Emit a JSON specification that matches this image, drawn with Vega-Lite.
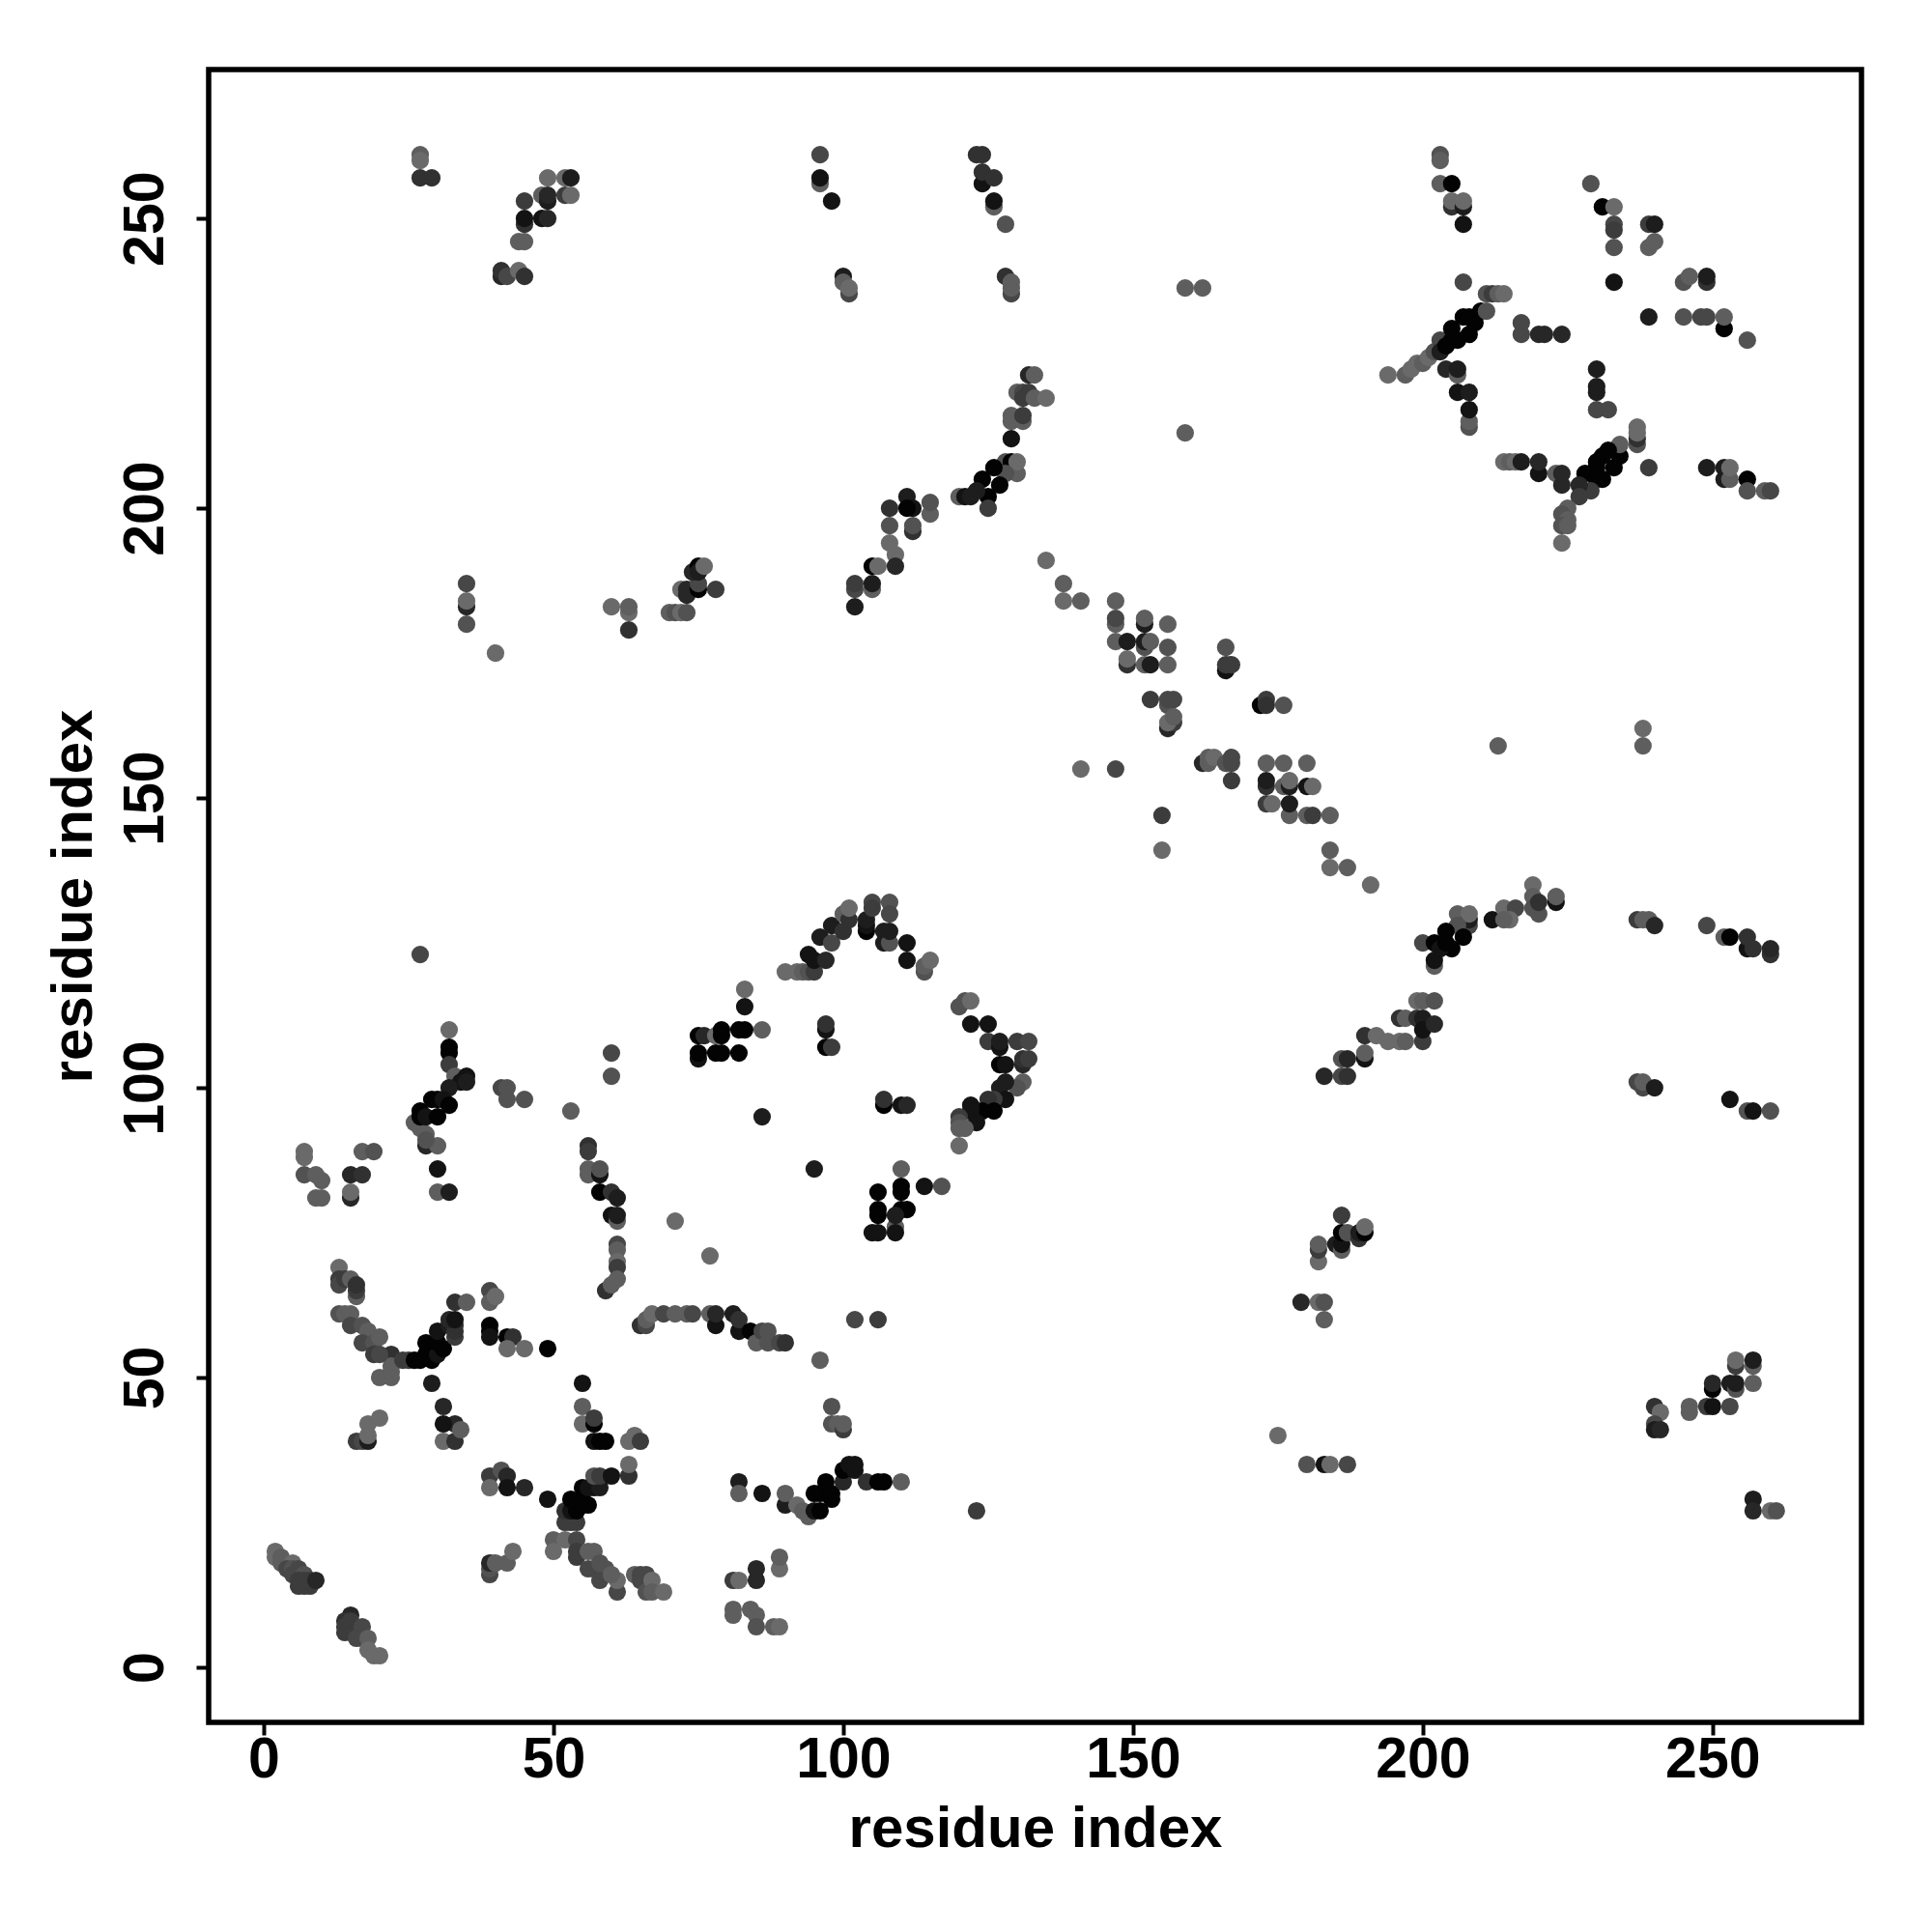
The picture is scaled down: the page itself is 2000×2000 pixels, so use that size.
{"$schema":"https://vega.github.io/schema/vega-lite/v6.json","width":1711,"height":1711,"autosize":"none","padding":{"left":216,"top":72,"right":73,"bottom":217},"background":"white","config":{"view":{"stroke":"black","strokeWidth":5.5}},
"data":{"values":[
{"x":2,"y":20,"s":9},{"x":2,"y":19,"s":9},{"x":3,"y":19,"s":8},{"x":3,"y":18,"s":8},{"x":5,"y":18,"s":9},{"x":4,"y":17,"s":6},{"x":5,"y":17,"s":7},{"x":6,"y":17,"s":6},{"x":6,"y":14,"s":5},{"x":7,"y":14,"s":5},{"x":8,"y":14,"s":5},{"x":5,"y":16,"s":6},{"x":6,"y":16,"s":6},{"x":7,"y":16,"s":7},{"x":6,"y":15,"s":5},{"x":7,"y":15,"s":5},{"x":8,"y":15,"s":5},{"x":9,"y":15,"s":3},
{"x":15,"y":9,"s":3},{"x":14,"y":8,"s":4},{"x":14,"y":7,"s":5},{"x":14,"y":6,"s":5},{"x":15,"y":8,"s":5},{"x":16,"y":6,"s":5},{"x":16,"y":5,"s":6},{"x":17,"y":7,"s":6},{"x":17,"y":5,"s":6},{"x":18,"y":5,"s":8},{"x":18,"y":3,"s":9},{"x":19,"y":2,"s":9},{"x":20,"y":2,"s":9},
{"x":39,"y":16,"s":6},{"x":39,"y":17,"s":7},{"x":39,"y":18,"s":3},{"x":40,"y":18,"s":8},{"x":42,"y":18,"s":8},{"x":43,"y":20,"s":9},
{"x":50,"y":22,"s":8},{"x":50,"y":20,"s":9},{"x":52,"y":22,"s":9},{"x":54,"y":22,"s":6},{"x":54,"y":20,"s":5},{"x":54,"y":19,"s":5},{"x":56,"y":20,"s":8},{"x":57,"y":20,"s":8},{"x":56,"y":17,"s":6},{"x":57,"y":17,"s":6},{"x":58,"y":18,"s":7},{"x":59,"y":17,"s":7},{"x":58,"y":15,"s":6},{"x":61,"y":13,"s":6},{"x":61,"y":15,"s":9},{"x":60,"y":16,"s":8},
{"x":64,"y":16,"s":8},{"x":65,"y":16,"s":6},{"x":66,"y":16,"s":6},{"x":65,"y":15,"s":6},{"x":66,"y":13,"s":7},{"x":67,"y":15,"s":9},{"x":67,"y":13,"s":8},{"x":69,"y":13,"s":9},
{"x":81,"y":15,"s":5},{"x":82,"y":15,"s":9},{"x":81,"y":10,"s":8},{"x":81,"y":9,"s":8},{"x":84,"y":10,"s":8},{"x":85,"y":9,"s":8},{"x":85,"y":7,"s":7},{"x":88,"y":7,"s":8},{"x":89,"y":7,"s":9},{"x":85,"y":15,"s":3},{"x":85,"y":17,"s":3},{"x":89,"y":17,"s":9},{"x":89,"y":19,"s":8},
{"x":39,"y":33,"s":5},{"x":41,"y":34,"s":7},{"x":42,"y":33,"s":3},{"x":39,"y":31,"s":9},{"x":42,"y":31,"s":1},{"x":45,"y":31,"s":3},{"x":49,"y":29,"s":1},
{"x":52,"y":25,"s":5},{"x":53,"y":25,"s":5},{"x":54,"y":25,"s":5},{"x":52,"y":27,"s":4},{"x":53,"y":27,"s":1},{"x":54,"y":27,"s":0},{"x":53,"y":29,"s":0},{"x":55,"y":28,"s":0},{"x":55,"y":29,"s":0},{"x":56,"y":28,"s":0},{"x":55,"y":31,"s":0},{"x":56,"y":31,"s":1},{"x":57,"y":31,"s":1},{"x":58,"y":31,"s":2},{"x":57,"y":33,"s":7},{"x":58,"y":33,"s":5},{"x":60,"y":33,"s":1},{"x":63,"y":33,"s":4},{"x":63,"y":35,"s":9},
{"x":57,"y":39,"s":1},{"x":58,"y":39,"s":0},{"x":59,"y":39,"s":0},{"x":55,"y":49,"s":1},{"x":55,"y":45,"s":8},{"x":55,"y":42,"s":9},{"x":57,"y":42,"s":0},{"x":57,"y":43,"s":5},{"x":63,"y":39,"s":9},{"x":64,"y":40,"s":9},{"x":65,"y":39,"s":5},
{"x":16,"y":39,"s":5},{"x":17,"y":39,"s":6},{"x":18,"y":39,"s":2},{"x":18,"y":40,"s":9},{"x":18,"y":42,"s":9},{"x":20,"y":43,"s":9},{"x":31,"y":39,"s":9},{"x":33,"y":39,"s":4},{"x":33,"y":42,"s":3},{"x":34,"y":41,"s":8},{"x":31,"y":42,"s":1},{"x":31,"y":45,"s":3},{"x":29,"y":49,"s":2},
{"x":22,"y":54,"s":4},{"x":20,"y":50,"s":8},{"x":22,"y":50,"s":8},{"x":22,"y":51,"s":8},{"x":22,"y":52,"s":8},{"x":24,"y":53,"s":5},{"x":25,"y":53,"s":5},{"x":26,"y":53,"s":0},{"x":27,"y":53,"s":0},{"x":29,"y":53,"s":0},{"x":28,"y":54,"s":0},{"x":30,"y":54,"s":1},{"x":31,"y":55,"s":0},{"x":28,"y":56,"s":0},{"x":30,"y":56,"s":0},{"x":30,"y":58,"s":1},{"x":32,"y":59,"s":2},{"x":33,"y":57,"s":5},{"x":33,"y":58,"s":4},{"x":33,"y":59,"s":4},{"x":32,"y":60,"s":3},{"x":33,"y":60,"s":1},{"x":33,"y":63,"s":4},{"x":35,"y":63,"s":8},
{"x":39,"y":65,"s":6},{"x":39,"y":63,"s":8},{"x":40,"y":64,"s":9},{"x":39,"y":59,"s":0},{"x":39,"y":58,"s":0},{"x":39,"y":57,"s":1},{"x":42,"y":57,"s":0},{"x":43,"y":57,"s":4},{"x":42,"y":55,"s":9},{"x":45,"y":55,"s":9},{"x":49,"y":55,"s":0},
{"x":13,"y":69,"s":9},{"x":13,"y":67,"s":5},{"x":13,"y":66,"s":6},{"x":14,"y":67,"s":5},{"x":15,"y":67,"s":8},{"x":16,"y":64,"s":8},{"x":16,"y":65,"s":5},{"x":16,"y":66,"s":4},{"x":13,"y":61,"s":7},{"x":14,"y":61,"s":8},{"x":15,"y":61,"s":8},{"x":15,"y":59,"s":6},{"x":17,"y":59,"s":7},{"x":18,"y":58,"s":8},{"x":17,"y":56,"s":6},{"x":19,"y":56,"s":7},{"x":19,"y":54,"s":5},{"x":20,"y":54,"s":6},{"x":20,"y":57,"s":8},
{"x":7,"y":89,"s":9},{"x":7,"y":88,"s":9},{"x":7,"y":85,"s":7},{"x":9,"y":85,"s":8},{"x":10,"y":84,"s":8},{"x":9,"y":81,"s":8},{"x":10,"y":81,"s":8},{"x":15,"y":85,"s":3},{"x":17,"y":85,"s":4},{"x":17,"y":89,"s":8},{"x":19,"y":89,"s":7},{"x":15,"y":81,"s":3},{"x":15,"y":82,"s":9},
{"x":28,"y":90,"s":3},{"x":30,"y":90,"s":8},{"x":30,"y":86,"s":1},{"x":30,"y":82,"s":8},{"x":32,"y":82,"s":2},{"x":27,"y":123,"s":6},{"x":32,"y":110,"s":9},{"x":32,"y":107,"s":0},{"x":32,"y":106,"s":0},{"x":32,"y":104,"s":5},{"x":33,"y":102,"s":8},{"x":35,"y":102,"s":1},{"x":34,"y":101,"s":1},{"x":35,"y":101,"s":2},{"x":32,"y":100,"s":2},{"x":29,"y":98,"s":0},{"x":30,"y":98,"s":0},{"x":31,"y":98,"s":1},{"x":32,"y":97,"s":0},{"x":26,"y":94,"s":8},{"x":27,"y":93,"s":8},{"x":28,"y":92,"s":8},{"x":28,"y":91,"s":7},{"x":27,"y":96,"s":0},{"x":27,"y":95,"s":0},{"x":28,"y":95,"s":1},{"x":30,"y":95,"s":0},
{"x":41,"y":100,"s":6},{"x":42,"y":100,"s":7},{"x":42,"y":98,"s":7},{"x":45,"y":98,"s":7},{"x":53,"y":96,"s":8},{"x":60,"y":106,"s":6},{"x":60,"y":102,"s":7},
{"x":56,"y":90,"s":4},{"x":56,"y":89,"s":5},{"x":56,"y":86,"s":8},{"x":56,"y":85,"s":8},{"x":58,"y":82,"s":0},{"x":58,"y":85,"s":1},{"x":58,"y":86,"s":7},{"x":60,"y":82,"s":4},{"x":61,"y":81,"s":2},{"x":60,"y":78,"s":1},{"x":61,"y":77,"s":8},{"x":61,"y":78,"s":2},{"x":61,"y":73,"s":6},{"x":61,"y":72,"s":8},{"x":61,"y":70,"s":9},{"x":61,"y":69,"s":5},{"x":61,"y":67,"s":8},{"x":59,"y":65,"s":4},{"x":60,"y":66,"s":8},{"x":71,"y":77,"s":9},{"x":77,"y":71,"s":9},{"x":96,"y":53,"s":8},{"x":102,"y":60,"s":6},{"x":106,"y":60,"s":5},
{"x":65,"y":59,"s":4},{"x":66,"y":59,"s":6},{"x":66,"y":60,"s":8},{"x":67,"y":61,"s":9},{"x":69,"y":61,"s":6},{"x":71,"y":61,"s":8},{"x":73,"y":61,"s":8},{"x":74,"y":61,"s":6},{"x":77,"y":61,"s":8},{"x":78,"y":59,"s":1},{"x":78,"y":61,"s":3},{"x":81,"y":61,"s":2},{"x":82,"y":58,"s":1},{"x":82,"y":60,"s":4},{"x":84,"y":58,"s":0},{"x":85,"y":56,"s":8},{"x":86,"y":58,"s":6},{"x":87,"y":58,"s":7},{"x":87,"y":56,"s":7},{"x":89,"y":56,"s":6},{"x":90,"y":56,"s":4},
{"x":83,"y":117,"s":9},{"x":83,"y":114,"s":1},{"x":75,"y":109,"s":0},{"x":76,"y":109,"s":3},{"x":78,"y":109,"s":9},{"x":79,"y":110,"s":0},{"x":79,"y":109,"s":0},{"x":82,"y":110,"s":0},{"x":83,"y":110,"s":0},{"x":86,"y":110,"s":8},{"x":75,"y":105,"s":1},{"x":75,"y":106,"s":0},{"x":78,"y":106,"s":0},{"x":79,"y":106,"s":0},{"x":82,"y":106,"s":0},
{"x":97,"y":110,"s":1},{"x":97,"y":111,"s":4},{"x":97,"y":107,"s":0},{"x":98,"y":107,"s":5},{"x":86,"y":95,"s":2},{"x":95,"y":86,"s":2},{"x":107,"y":97,"s":0},{"x":107,"y":98,"s":4},{"x":110,"y":97,"s":1},{"x":111,"y":97,"s":3},{"x":110,"y":86,"s":8},{"x":110,"y":83,"s":0},{"x":110,"y":82,"s":0},{"x":114,"y":83,"s":1},{"x":117,"y":83,"s":7},{"x":106,"y":82,"s":0},{"x":106,"y":79,"s":0},{"x":106,"y":78,"s":0},{"x":110,"y":79,"s":0},{"x":111,"y":79,"s":0},{"x":109,"y":76,"s":8},{"x":109,"y":75,"s":1},{"x":109,"y":78,"s":2},{"x":105,"y":75,"s":1},{"x":106,"y":75,"s":1},
{"x":90,"y":120,"s":9},{"x":92,"y":120,"s":9},{"x":93,"y":120,"s":8},{"x":94,"y":120,"s":7},{"x":95,"y":120,"s":5},{"x":94,"y":123,"s":1},{"x":95,"y":122,"s":1},{"x":97,"y":122,"s":3},{"x":96,"y":126,"s":2},{"x":98,"y":125,"s":6},{"x":98,"y":128,"s":2},{"x":100,"y":127,"s":4},{"x":100,"y":130,"s":8},{"x":101,"y":129,"s":4},{"x":101,"y":131,"s":9},{"x":104,"y":127,"s":0},{"x":104,"y":128,"s":1},{"x":104,"y":129,"s":2},{"x":105,"y":132,"s":6},{"x":105,"y":131,"s":5},{"x":108,"y":132,"s":7},{"x":108,"y":130,"s":6},{"x":107,"y":125,"s":2},{"x":107,"y":127,"s":2},{"x":108,"y":125,"s":7},{"x":108,"y":127,"s":2},{"x":111,"y":125,"s":1},{"x":111,"y":122,"s":1},{"x":114,"y":120,"s":7},{"x":114,"y":121,"s":8},{"x":115,"y":122,"s":9},
{"x":120,"y":114,"s":7},{"x":121,"y":115,"s":7},{"x":122,"y":115,"s":9},{"x":122,"y":111,"s":1},{"x":125,"y":111,"s":1},{"x":125,"y":108,"s":5},{"x":127,"y":107,"s":1},{"x":127,"y":108,"s":2},{"x":130,"y":108,"s":5},{"x":132,"y":108,"s":6},{"x":127,"y":104,"s":0},{"x":128,"y":104,"s":1},{"x":131,"y":104,"s":3},{"x":131,"y":105,"s":4},{"x":132,"y":105,"s":5},{"x":131,"y":101,"s":8},{"x":130,"y":100,"s":7},{"x":128,"y":101,"s":2},{"x":127,"y":100,"s":2},{"x":128,"y":98,"s":1},{"x":126,"y":98,"s":5},{"x":125,"y":98,"s":4},{"x":126,"y":96,"s":0},{"x":124,"y":96,"s":0},{"x":123,"y":96,"s":0},{"x":122,"y":97,"s":1},{"x":122,"y":96,"s":1},{"x":123,"y":94,"s":1},{"x":120,"y":95,"s":5},{"x":120,"y":94,"s":7},{"x":121,"y":93,"s":8},{"x":120,"y":93,"s":8},{"x":120,"y":90,"s":9},
{"x":191,"y":135,"s":9},{"x":184,"y":138,"s":9},{"x":187,"y":138,"s":8},{"x":184,"y":141,"s":8},{"x":206,"y":130,"s":8},{"x":208,"y":128,"s":6},{"x":208,"y":129,"s":2},{"x":208,"y":130,"s":9},{"x":206,"y":128,"s":7},{"x":204,"y":127,"s":0},{"x":207,"y":126,"s":0},{"x":200,"y":125,"s":6},{"x":202,"y":121,"s":8},{"x":202,"y":122,"s":1},{"x":202,"y":125,"s":0},{"x":205,"y":124,"s":0},{"x":203,"y":124,"s":1},{"x":204,"y":125,"s":0},
{"x":212,"y":129,"s":1},{"x":214,"y":131,"s":9},{"x":216,"y":131,"s":6},{"x":215,"y":129,"s":9},{"x":214,"y":129,"s":8},{"x":219,"y":135,"s":9},{"x":219,"y":133,"s":8},{"x":219,"y":131,"s":7},{"x":220,"y":130,"s":7},{"x":220,"y":132,"s":4},{"x":223,"y":132,"s":1},{"x":223,"y":133,"s":8},
{"x":237,"y":129,"s":5},{"x":238,"y":129,"s":8},{"x":239,"y":129,"s":8},{"x":240,"y":128,"s":3},{"x":249,"y":128,"s":6},{"x":252,"y":126,"s":8},{"x":253,"y":126,"s":0},{"x":256,"y":124,"s":1},{"x":256,"y":126,"s":4},{"x":257,"y":124,"s":4},{"x":260,"y":123,"s":4},{"x":260,"y":124,"s":3},
{"x":183,"y":102,"s":3},{"x":186,"y":102,"s":6},{"x":187,"y":102,"s":4},{"x":186,"y":105,"s":7},{"x":187,"y":105,"s":3},{"x":190,"y":105,"s":1},{"x":190,"y":106,"s":8},{"x":190,"y":109,"s":4},{"x":192,"y":109,"s":9},{"x":194,"y":108,"s":9},{"x":196,"y":108,"s":9},{"x":197,"y":108,"s":8},{"x":200,"y":108,"s":5},{"x":196,"y":112,"s":4},{"x":197,"y":112,"s":8},{"x":199,"y":112,"s":4},{"x":200,"y":112,"s":2},{"x":200,"y":110,"s":1},{"x":202,"y":111,"s":3},{"x":199,"y":115,"s":9},{"x":200,"y":115,"s":8},{"x":202,"y":115,"s":7},
{"x":237,"y":101,"s":6},{"x":238,"y":100,"s":6},{"x":238,"y":101,"s":8},{"x":240,"y":100,"s":2},{"x":253,"y":98,"s":1},{"x":256,"y":96,"s":7},{"x":257,"y":96,"s":1},{"x":260,"y":96,"s":7},
{"x":203,"y":261,"s":7},{"x":203,"y":260,"s":8},{"x":203,"y":256,"s":8},{"x":205,"y":256,"s":0},{"x":205,"y":252,"s":4},{"x":205,"y":253,"s":9},{"x":207,"y":252,"s":2},{"x":207,"y":253,"s":9},{"x":207,"y":249,"s":1},{"x":207,"y":239,"s":6},
{"x":229,"y":256,"s":7},{"x":231,"y":252,"s":0},{"x":233,"y":252,"s":9},{"x":233,"y":249,"s":6},{"x":233,"y":248,"s":5},{"x":233,"y":245,"s":7},{"x":233,"y":239,"s":1},{"x":239,"y":249,"s":5},{"x":240,"y":249,"s":2},{"x":239,"y":245,"s":8},{"x":240,"y":246,"s":8},{"x":245,"y":239,"s":7},{"x":246,"y":240,"s":8},{"x":249,"y":239,"s":4},{"x":249,"y":240,"s":2},
{"x":239,"y":233,"s":2},{"x":245,"y":233,"s":7},{"x":248,"y":233,"s":6},{"x":249,"y":233,"s":6},{"x":252,"y":231,"s":0},{"x":252,"y":233,"s":8},{"x":256,"y":229,"s":7},
{"x":211,"y":237,"s":7},{"x":212,"y":237,"s":5},{"x":213,"y":237,"s":8},{"x":214,"y":237,"s":9},{"x":217,"y":232,"s":6},{"x":217,"y":230,"s":6},{"x":220,"y":230,"s":3},{"x":221,"y":230,"s":3},{"x":224,"y":230,"s":3},
{"x":194,"y":223,"s":9},{"x":197,"y":223,"s":8},{"x":198,"y":224,"s":9},{"x":199,"y":225,"s":9},{"x":200,"y":225,"s":8},{"x":201,"y":226,"s":9},{"x":202,"y":227,"s":7},{"x":203,"y":229,"s":6},{"x":203,"y":227,"s":2},{"x":204,"y":228,"s":0},{"x":205,"y":229,"s":0},{"x":205,"y":231,"s":0},{"x":206,"y":229,"s":0},{"x":207,"y":233,"s":0},{"x":208,"y":233,"s":0},{"x":209,"y":232,"s":0},{"x":208,"y":230,"s":0},{"x":210,"y":234,"s":0},{"x":211,"y":234,"s":7},
{"x":204,"y":224,"s":3},{"x":206,"y":223,"s":8},{"x":206,"y":224,"s":2},{"x":206,"y":220,"s":1},{"x":208,"y":220,"s":2},{"x":208,"y":214,"s":7},{"x":208,"y":215,"s":8},{"x":208,"y":217,"s":1},
{"x":230,"y":224,"s":2},{"x":230,"y":221,"s":2},{"x":230,"y":220,"s":2},{"x":230,"y":217,"s":6},{"x":232,"y":217,"s":6},{"x":237,"y":211,"s":7},{"x":237,"y":212,"s":4},{"x":237,"y":214,"s":9},{"x":237,"y":213,"s":9},{"x":234,"y":209,"s":0},{"x":234,"y":211,"s":8},{"x":232,"y":210,"s":0},{"x":233,"y":207,"s":0},{"x":231,"y":209,"s":0},{"x":230,"y":208,"s":0},{"x":231,"y":205,"s":0},{"x":230,"y":207,"s":0},{"x":228,"y":206,"s":0},{"x":230,"y":205,"s":0},{"x":229,"y":203,"s":5},{"x":227,"y":204,"s":3},{"x":227,"y":202,"s":5},{"x":225,"y":200,"s":8},{"x":224,"y":199,"s":7},{"x":225,"y":198,"s":8},{"x":224,"y":197,"s":7},{"x":225,"y":197,"s":8},{"x":224,"y":194,"s":9},{"x":239,"y":207,"s":5},
{"x":249,"y":207,"s":2},{"x":252,"y":205,"s":2},{"x":252,"y":207,"s":2},{"x":253,"y":205,"s":8},{"x":253,"y":207,"s":9},{"x":256,"y":205,"s":0},{"x":256,"y":203,"s":7},{"x":259,"y":203,"s":8},{"x":260,"y":203,"s":6},
{"x":214,"y":208,"s":9},{"x":215,"y":208,"s":8},{"x":216,"y":208,"s":9},{"x":217,"y":208,"s":2},{"x":220,"y":206,"s":1},{"x":220,"y":208,"s":3},{"x":223,"y":206,"s":8},{"x":224,"y":204,"s":3},{"x":224,"y":206,"s":3},
{"x":213,"y":159,"s":8},{"x":238,"y":162,"s":9},{"x":238,"y":159,"s":8},{"x":159,"y":238,"s":8},{"x":162,"y":238,"s":8},{"x":159,"y":213,"s":8},
{"x":96,"y":261,"s":6},{"x":96,"y":256,"s":8},{"x":96,"y":257,"s":1},{"x":98,"y":253,"s":1},{"x":100,"y":240,"s":2},{"x":100,"y":239,"s":8},{"x":101,"y":237,"s":6},{"x":101,"y":238,"s":9},
{"x":123,"y":261,"s":4},{"x":124,"y":261,"s":4},{"x":124,"y":256,"s":1},{"x":124,"y":258,"s":4},{"x":126,"y":257,"s":4},{"x":126,"y":252,"s":8},{"x":126,"y":253,"s":1},{"x":128,"y":249,"s":7},{"x":128,"y":240,"s":4},{"x":129,"y":237,"s":6},{"x":129,"y":238,"s":8},{"x":129,"y":239,"s":8},
{"x":132,"y":223,"s":3},{"x":133,"y":223,"s":8},{"x":130,"y":220,"s":8},{"x":131,"y":220,"s":6},{"x":132,"y":220,"s":5},{"x":131,"y":219,"s":5},{"x":133,"y":219,"s":8},{"x":135,"y":219,"s":9},{"x":129,"y":216,"s":8},{"x":129,"y":215,"s":8},{"x":131,"y":215,"s":8},{"x":131,"y":216,"s":5},{"x":129,"y":212,"s":1},{"x":128,"y":208,"s":7},{"x":129,"y":208,"s":0},{"x":130,"y":206,"s":8},{"x":130,"y":208,"s":9},{"x":128,"y":206,"s":7},{"x":126,"y":207,"s":0},{"x":127,"y":204,"s":0},{"x":124,"y":205,"s":0},{"x":125,"y":202,"s":0},{"x":123,"y":203,"s":2},{"x":120,"y":202,"s":8},{"x":121,"y":202,"s":1},{"x":122,"y":202,"s":2},{"x":125,"y":200,"s":5},
{"x":111,"y":202,"s":2},{"x":112,"y":200,"s":1},{"x":111,"y":200,"s":0},{"x":108,"y":200,"s":4},{"x":112,"y":196,"s":4},{"x":112,"y":197,"s":7},{"x":115,"y":199,"s":8},{"x":115,"y":201,"s":7},{"x":108,"y":197,"s":7},{"x":108,"y":194,"s":9},{"x":109,"y":192,"s":9},{"x":109,"y":190,"s":3},{"x":105,"y":190,"s":0},{"x":106,"y":190,"s":9},{"x":102,"y":186,"s":6},{"x":102,"y":187,"s":5},{"x":105,"y":186,"s":8},{"x":105,"y":187,"s":2},{"x":102,"y":183,"s":2},
{"x":135,"y":191,"s":9},{"x":138,"y":187,"s":8},{"x":138,"y":184,"s":9},{"x":141,"y":184,"s":8},{"x":147,"y":184,"s":8},{"x":147,"y":180,"s":8},{"x":147,"y":181,"s":6},{"x":147,"y":177,"s":8},{"x":152,"y":180,"s":2},{"x":152,"y":181,"s":8},{"x":156,"y":180,"s":8},{"x":149,"y":177,"s":2},{"x":152,"y":176,"s":7},{"x":152,"y":177,"s":2},{"x":153,"y":177,"s":8},{"x":156,"y":176,"s":7},{"x":149,"y":173,"s":4},{"x":149,"y":174,"s":9},{"x":152,"y":173,"s":8},{"x":153,"y":173,"s":2},{"x":156,"y":173,"s":8},
{"x":166,"y":176,"s":7},{"x":166,"y":172,"s":1},{"x":166,"y":173,"s":5},{"x":167,"y":173,"s":5},{"x":153,"y":167,"s":5},{"x":156,"y":166,"s":7},{"x":156,"y":167,"s":6},{"x":157,"y":167,"s":6},{"x":156,"y":162,"s":3},{"x":157,"y":163,"s":5},{"x":156,"y":163,"s":9},{"x":157,"y":164,"s":8},{"x":172,"y":166,"s":0},{"x":173,"y":167,"s":5},{"x":173,"y":166,"s":4},{"x":176,"y":166,"s":7},
{"x":141,"y":155,"s":9},{"x":147,"y":155,"s":6},{"x":162,"y":156,"s":3},{"x":163,"y":156,"s":8},{"x":163,"y":157,"s":8},{"x":164,"y":157,"s":9},{"x":166,"y":156,"s":7},{"x":167,"y":157,"s":6},{"x":167,"y":156,"s":6},{"x":167,"y":153,"s":5},{"x":173,"y":156,"s":8},{"x":176,"y":156,"s":8},{"x":180,"y":156,"s":8},{"x":173,"y":152,"s":4},{"x":173,"y":153,"s":2},{"x":176,"y":152,"s":8},{"x":177,"y":152,"s":2},{"x":177,"y":153,"s":9},{"x":180,"y":152,"s":1},{"x":181,"y":152,"s":9},{"x":173,"y":149,"s":5},{"x":174,"y":149,"s":9},{"x":177,"y":147,"s":8},{"x":177,"y":149,"s":2},{"x":180,"y":147,"s":8},{"x":181,"y":147,"s":5},{"x":184,"y":147,"s":8},{"x":155,"y":147,"s":5},{"x":155,"y":141,"s":9},
{"x":27,"y":261,"s":8},{"x":27,"y":260,"s":9},{"x":27,"y":257,"s":4},{"x":29,"y":257,"s":4},{"x":49,"y":257,"s":9},{"x":52,"y":257,"s":9},{"x":53,"y":257,"s":2},{"x":48,"y":254,"s":8},{"x":49,"y":253,"s":2},{"x":49,"y":254,"s":3},{"x":52,"y":254,"s":5},{"x":53,"y":254,"s":9},{"x":45,"y":253,"s":5},{"x":45,"y":249,"s":4},{"x":45,"y":250,"s":1},{"x":48,"y":250,"s":1},{"x":49,"y":250,"s":3},{"x":44,"y":246,"s":8},{"x":45,"y":246,"s":8},{"x":41,"y":240,"s":3},{"x":41,"y":241,"s":4},{"x":42,"y":240,"s":6},{"x":44,"y":241,"s":9},{"x":45,"y":240,"s":4},
{"x":35,"y":187,"s":6},{"x":35,"y":183,"s":3},{"x":35,"y":184,"s":9},{"x":35,"y":180,"s":7},{"x":40,"y":175,"s":9},{"x":60,"y":183,"s":9},{"x":63,"y":182,"s":9},{"x":63,"y":183,"s":8},{"x":63,"y":179,"s":4},{"x":70,"y":182,"s":8},{"x":71,"y":182,"s":7},{"x":72,"y":182,"s":9},{"x":73,"y":182,"s":7},{"x":72,"y":186,"s":9},{"x":73,"y":185,"s":3},{"x":73,"y":186,"s":3},{"x":75,"y":186,"s":0},{"x":75,"y":187,"s":6},{"x":78,"y":186,"s":5},{"x":74,"y":189,"s":3},{"x":75,"y":190,"s":0},{"x":75,"y":189,"s":2},{"x":76,"y":190,"s":9},
{"x":240,"y":45,"s":4},{"x":241,"y":44,"s":9},{"x":240,"y":42,"s":6},{"x":240,"y":41,"s":2},{"x":241,"y":41,"s":3},{"x":246,"y":45,"s":8},{"x":246,"y":44,"s":8},{"x":249,"y":45,"s":5},{"x":250,"y":45,"s":1},{"x":250,"y":48,"s":0},{"x":250,"y":49,"s":3},{"x":253,"y":45,"s":6},{"x":253,"y":49,"s":2},{"x":254,"y":48,"s":7},{"x":254,"y":49,"s":2},{"x":254,"y":52,"s":5},{"x":254,"y":53,"s":9},{"x":257,"y":52,"s":8},{"x":257,"y":53,"s":2},{"x":257,"y":49,"s":8},{"x":257,"y":29,"s":2},{"x":257,"y":27,"s":3},{"x":260,"y":27,"s":9},{"x":261,"y":27,"s":7},
{"x":186,"y":78,"s":5},{"x":182,"y":70,"s":9},{"x":182,"y":72,"s":5},{"x":182,"y":73,"s":8},{"x":185,"y":73,"s":2},{"x":186,"y":72,"s":8},{"x":186,"y":73,"s":1},{"x":186,"y":75,"s":0},{"x":187,"y":75,"s":7},{"x":189,"y":74,"s":4},{"x":189,"y":75,"s":2},{"x":190,"y":75,"s":0},{"x":190,"y":76,"s":9},{"x":179,"y":63,"s":3},{"x":182,"y":63,"s":9},{"x":183,"y":63,"s":7},{"x":183,"y":60,"s":8},{"x":175,"y":40,"s":9},{"x":180,"y":35,"s":7},{"x":183,"y":35,"s":1},{"x":184,"y":35,"s":9},{"x":187,"y":35,"s":6},
{"x":82,"y":32,"s":2},{"x":82,"y":30,"s":8},{"x":86,"y":30,"s":1},{"x":90,"y":28,"s":2},{"x":90,"y":30,"s":8},{"x":92,"y":28,"s":9},{"x":93,"y":27,"s":8},{"x":94,"y":26,"s":8},{"x":95,"y":27,"s":1},{"x":95,"y":30,"s":0},{"x":96,"y":27,"s":0},{"x":96,"y":30,"s":0},{"x":97,"y":32,"s":0},{"x":98,"y":29,"s":0},{"x":98,"y":30,"s":0},{"x":100,"y":32,"s":3},{"x":100,"y":34,"s":0},{"x":101,"y":35,"s":1},{"x":102,"y":34,"s":1},{"x":102,"y":35,"s":1},{"x":104,"y":32,"s":4},{"x":106,"y":32,"s":0},{"x":107,"y":32,"s":0},{"x":110,"y":32,"s":8},{"x":123,"y":27,"s":5},
{"x":98,"y":45,"s":7},{"x":98,"y":42,"s":7},{"x":99,"y":42,"s":8},{"x":100,"y":41,"s":5},{"x":100,"y":42,"s":8}
]},
"mark":{"type":"circle","size":330,"opacity":1,"clip":true},
"encoding":{
"x":{"field":"x","type":"quantitative","scale":{"domain":[-9.5,275.7],"nice":false,"zero":false},"axis":{"values":[0,50,100,150,200,250],"title":"residue index","grid":false,"domain":false,"tickColor":"black","tickWidth":4,"tickSize":13,"labelFont":"Liberation Sans","labelFontWeight":"bold","labelFontSize":59,"labelColor":"black","labelPadding":-4,"titleFont":"Liberation Sans","titleFontWeight":"bold","titleFontSize":60,"titleColor":"black","titlePadding":13}},
"y":{"field":"y","type":"quantitative","scale":{"domain":[-9.5,275.7],"nice":false,"zero":false},"axis":{"values":[0,50,100,150,200,250],"title":"residue index","grid":false,"domain":false,"tickColor":"black","tickWidth":4,"tickSize":13,"labelFont":"Liberation Sans","labelFontWeight":"bold","labelFontSize":59,"labelColor":"black","labelAngle":-90,"labelAlign":"center","labelBaseline":"bottom","labelPadding":23,"titleFont":"Liberation Sans","titleFontWeight":"bold","titleFontSize":60,"titleColor":"black","titlePadding":14}},
"color":{"field":"s","type":"quantitative","scale":{"domain":[0,9],"range":["#030303","#6a6a6a"]},"legend":null}
}}
